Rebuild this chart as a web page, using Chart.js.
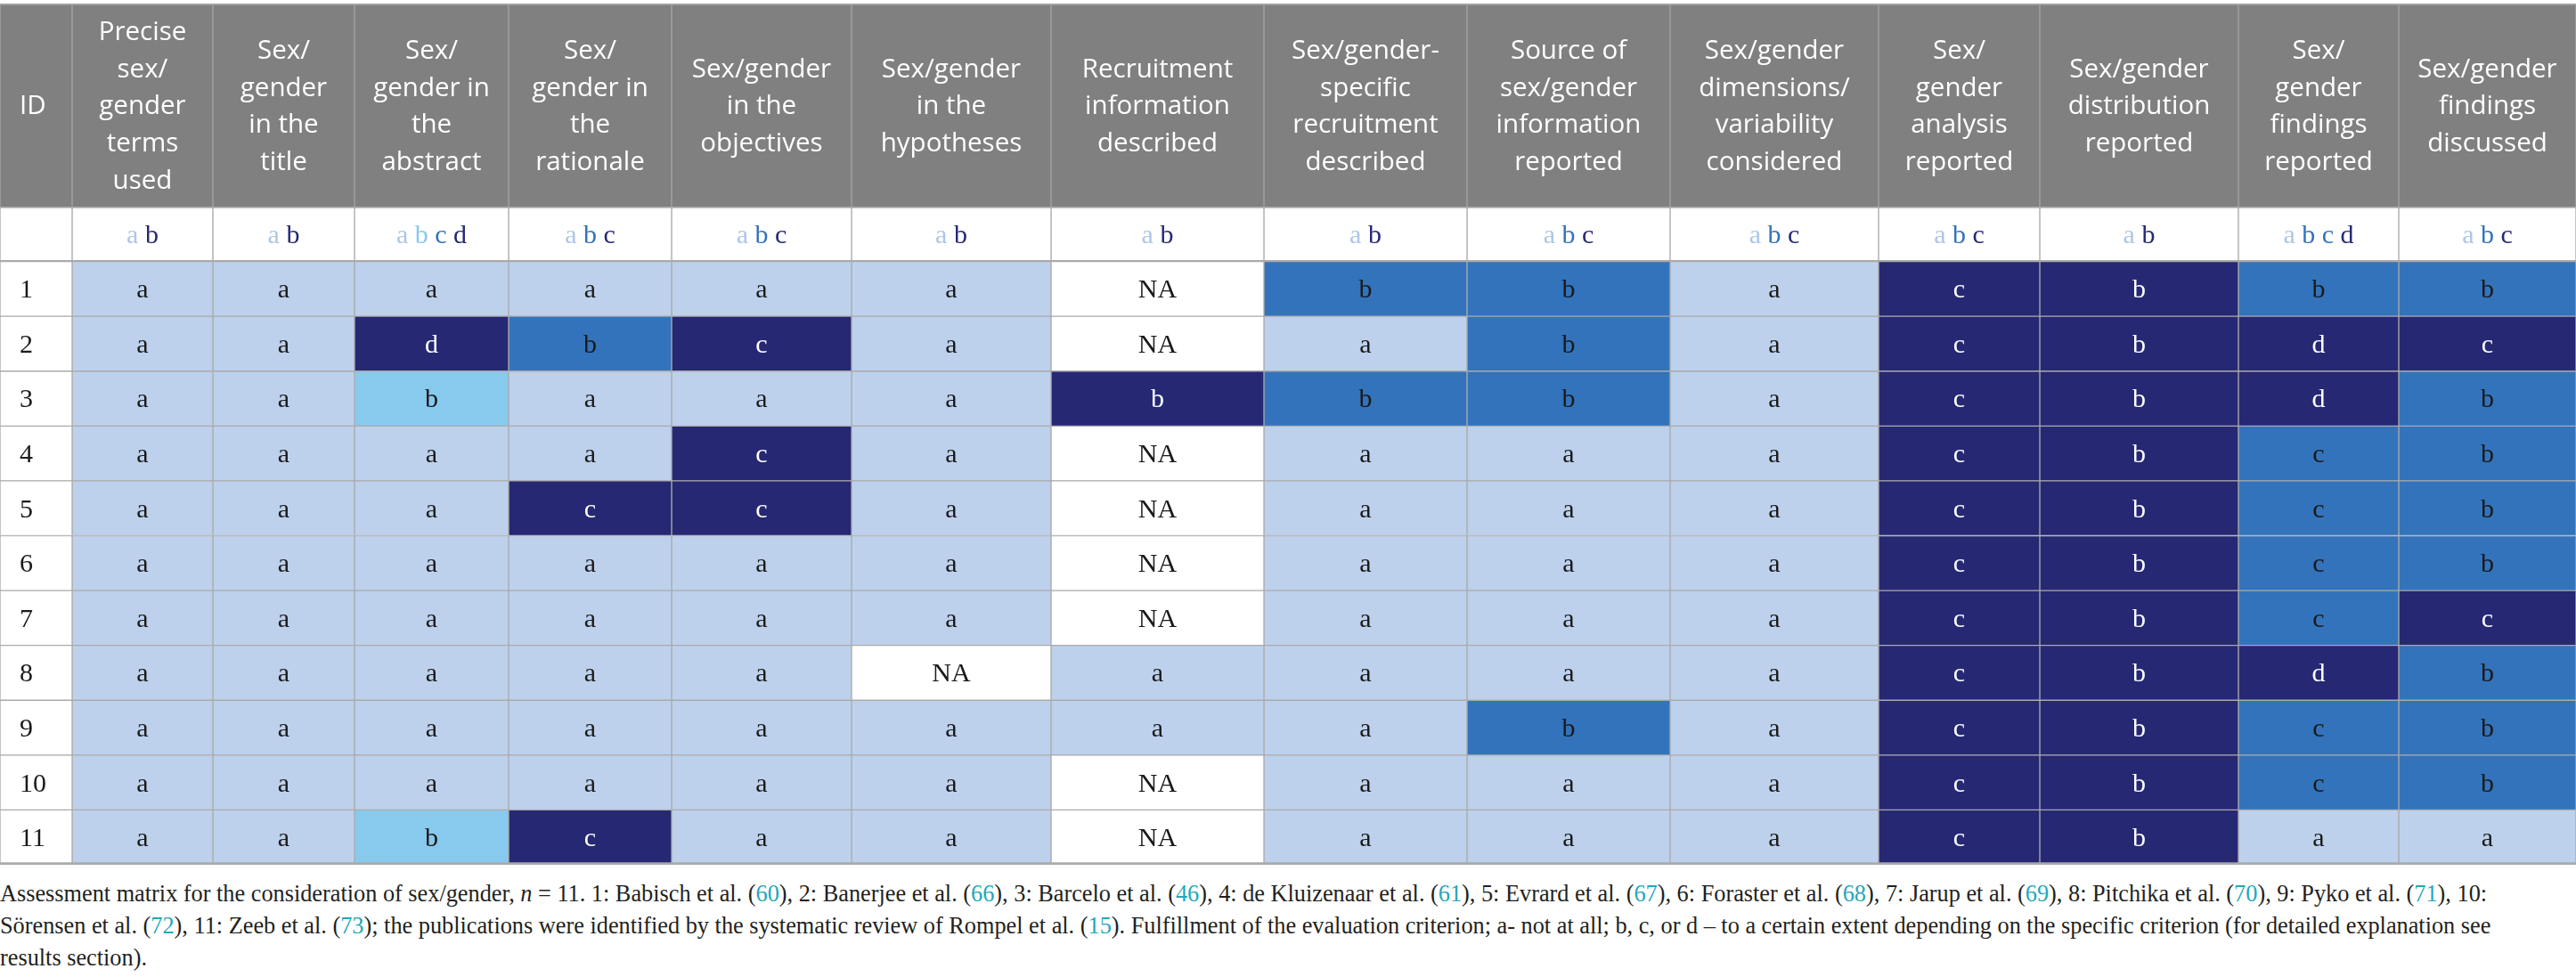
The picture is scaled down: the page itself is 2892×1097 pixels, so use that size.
<!DOCTYPE html>
<html lang="en">
<head>
    <title>Assessment matrix</title>
    <script src="https://cdn.jsdelivr.net/npm/chart.js"></script>
    <style>
        body { margin: 0; background: #fff; width: 2892px; height: 1097px; overflow: hidden; position: relative; }
        #head { position: absolute; left: 0; top: 4px; width: 2892px; height: 228px; }
        #body { position: absolute; left: 0; top: 232px; width: 2892px; height: 739px; }
        canvas { display: block; }
        #caption {
            position: absolute; left: 0; top: 985px;
            font-family: "Liberation Serif", serif; color: #231f20;
            font-size: 27px; line-height: 36px; white-space: nowrap;
            transform-origin: 0 0;
        }
        #caption .ref { color: #22a8ba; }
    </style>
</head>
<body>
    <div id="head"><canvas id="headChart"></canvas></div>
    <div id="body"><canvas id="bodyChart"></canvas></div>
    <div id="caption">
        <div class="line">Assessment matrix for the consideration of sex/gender, <i>n</i> = 11. 1: Babisch et al. (<span class="ref">60</span>), 2: Banerjee et al. (<span class="ref">66</span>), 3: Barcelo et al. (<span class="ref">46</span>), 4: de Kluizenaar et al. (<span class="ref">61</span>), 5: Evrard et al. (<span class="ref">67</span>), 6: Foraster et al. (<span class="ref">68</span>), 7: Jarup et al. (<span class="ref">69</span>), 8: Pitchika et al. (<span class="ref">70</span>), 9: Pyko et al. (<span class="ref">71</span>), 10:</div>
        <div class="line">Sörensen et al. (<span class="ref">72</span>), 11: Zeeb et al. (<span class="ref">73</span>); the publications were identified by the systematic review of Rompel et al. (<span class="ref">15</span>). Fulfillment of the evaluation criterion; a- not at all; b, c, or d – to a certain extent depending on the specific criterion (for detailed explanation see</div>
        <div class="line">results section).</div>
    </div>

    <script>
        // table content
        const idHeader = "ID";
        const criteria = [
            ["Precise", "sex/", "gender", "terms", "used"],
            ["Sex/", "gender", "in the", "title"],
            ["Sex/", "gender in", "the", "abstract"],
            ["Sex/", "gender in", "the", "rationale"],
            ["Sex/gender", "in the", "objectives"],
            ["Sex/gender", "in the", "hypotheses"],
            ["Recruitment", "information", "described"],
            ["Sex/gender-", "specific", "recruitment", "described"],
            ["Source of", "sex/gender", "information", "reported"],
            ["Sex/gender", "dimensions/", "variability", "considered"],
            ["Sex/", "gender", "analysis", "reported"],
            ["Sex/gender", "distribution", "reported"],
            ["Sex/", "gender", "findings", "reported"],
            ["Sex/gender", "findings", "discussed"]
        ];
        const levels = ["ab", "ab", "abcd", "abc", "abc", "ab", "ab", "ab", "abc", "abc", "abc", "ab", "abcd", "abc"];
        const ids = ["1", "2", "3", "4", "5", "6", "7", "8", "9", "10", "11"];
        const ratings = [
            ["a", "a", "a", "a", "a", "a", "NA", "b", "b", "a", "c", "b", "b", "b"],
            ["a", "a", "d", "b", "c", "a", "NA", "a", "b", "a", "c", "b", "d", "c"],
            ["a", "a", "b", "a", "a", "a", "b", "b", "b", "a", "c", "b", "d", "b"],
            ["a", "a", "a", "a", "c", "a", "NA", "a", "a", "a", "c", "b", "c", "b"],
            ["a", "a", "a", "c", "c", "a", "NA", "a", "a", "a", "c", "b", "c", "b"],
            ["a", "a", "a", "a", "a", "a", "NA", "a", "a", "a", "c", "b", "c", "b"],
            ["a", "a", "a", "a", "a", "a", "NA", "a", "a", "a", "c", "b", "c", "c"],
            ["a", "a", "a", "a", "a", "NA", "a", "a", "a", "a", "c", "b", "d", "b"],
            ["a", "a", "a", "a", "a", "a", "a", "a", "b", "a", "c", "b", "c", "b"],
            ["a", "a", "a", "a", "a", "a", "NA", "a", "a", "a", "c", "b", "c", "b"],
            ["a", "a", "b", "c", "a", "a", "NA", "a", "a", "a", "c", "b", "a", "a"]
        ];

        // layout: column edges in table pixels
        const colEdges = [0, 81, 239, 398, 571, 754, 956, 1180, 1419, 1647, 1875, 2109, 2290, 2513, 2693, 2892];

        // colours
        const LIGHT = "#bdd1ec", SKY = "#88c9ee", MID = "#3373bb", NAVY = "#262874";
        const cellColors = [
            [LIGHT, NAVY], [LIGHT, NAVY], [LIGHT, SKY, MID, NAVY], [LIGHT, MID, NAVY],
            [LIGHT, MID, NAVY], [LIGHT, NAVY], [LIGHT, NAVY], [LIGHT, MID],
            [LIGHT, MID, NAVY], [LIGHT, MID, NAVY], [LIGHT, MID, NAVY], [LIGHT, NAVY],
            [LIGHT, MID, MID, NAVY], [LIGHT, MID, NAVY]
        ];
        const keyColors = cellColors.map((c, i) => i === 7 ? [LIGHT, NAVY] : c);
        const KEY_A = "#adc6e8";

        function colorOf(col, v) {
            if (v === "NA") return "#ffffff";
            return cellColors[col]["abcd".indexOf(v)];
        }

        const headFont = '29.5px "Open Sans", sans-serif';
        const cellFont = '30px "Liberation Serif", serif';

        const headText = {
            id: "headText",
            afterDatasetsDraw(chart) {
                const ctx = chart.ctx;
                ctx.save();
                ctx.fillStyle = "#ffffff";
                ctx.font = headFont;
                ctx.textBaseline = "middle";
                chart.data.datasets.forEach((ds, i) => {
                    const bar = chart.getDatasetMeta(i).data[0];
                    const { x, y, base } = bar.getProps(["x", "y", "base"], true);
                    const lines = i === 0 ? [idHeader] : criteria[i - 1];
                    const lh = 41.7;
                    const y0 = y + 2 - (lines.length - 1) * lh / 2;
                    lines.forEach((t, k) => {
                        if (i === 0) {
                            ctx.textAlign = "left";
                            ctx.fillText(t, base + 22, y0 + k * lh);
                        } else {
                            ctx.textAlign = "center";
                            ctx.fillText(t, (x + base) / 2, y0 + k * lh);
                        }
                    });
                });
                ctx.restore();
            }
        };

        const bodyText = {
            id: "bodyText",
            afterDatasetsDraw(chart) {
                const ctx = chart.ctx;
                ctx.save();
                ctx.font = cellFont;
                ctx.textBaseline = "middle";
                chart.data.datasets.forEach((ds, i) => {
                    chart.getDatasetMeta(i).data.forEach((bar, j) => {
                        const { x, y, base } = bar.getProps(["x", "y", "base"], true);
                        const cx = (x + base) / 2, cy = y + 2;
                        if (i === 0) {
                            if (j === 0) return;
                            ctx.fillStyle = "#1a1a1a";
                            ctx.textAlign = "left";
                            ctx.fillText(ids[j - 1], base + 22, cy);
                            return;
                        }
                        const col = i - 1;
                        if (j === 0) {
                            const letters = levels[col].split("");
                            const str = letters.join(" ");
                            let px = cx - ctx.measureText(str).width / 2;
                            ctx.textAlign = "left";
                            letters.forEach((l, k) => {
                                ctx.fillStyle = k === 0 ? KEY_A : keyColors[col][k];
                                ctx.fillText(l, px, cy);
                                px += ctx.measureText(l + " ").width;
                            });
                            return;
                        }
                        const v = ratings[j - 1][col];
                        ctx.fillStyle = colorOf(col, v) === NAVY ? "#ffffff" : "#1a1a1a";
                        ctx.textAlign = "center";
                        ctx.fillText(v, cx, cy);
                    });
                });
                ctx.restore();
            }
        };

        const common = {
            indexAxis: "y",
            responsive: true,
            maintainAspectRatio: false,
            animation: false,
            layout: { padding: 0 },
            plugins: { legend: { display: false }, tooltip: { enabled: false } },
            scales: {
                x: { type: "linear", min: 0, max: 2892, display: false },
                y: { display: false }
            }
        };

        // header row
        new Chart(document.getElementById("headChart"), {
            type: "bar",
            data: {
                labels: ["header"],
                datasets: colEdges.slice(0, -1).map((e, i) => ({
                    data: [[e, colEdges[i + 1]]],
                    backgroundColor: "#7f807f",
                    borderColor: "#a4a4a4",
                    borderWidth: { left: 1, right: 1, top: 2, bottom: 0 },
                    borderSkipped: false,
                    grouped: false,
                    barPercentage: 1,
                    categoryPercentage: 1
                }))
            },
            options: common,
            plugins: [headText]
        });

        // key row + studies
        const rowLabels = ["key"].concat(ids);
        new Chart(document.getElementById("bodyChart"), {
            type: "bar",
            data: {
                labels: rowLabels,
                datasets: colEdges.slice(0, -1).map((e, i) => ({
                    data: rowLabels.map(() => [e, colEdges[i + 1]]),
                    backgroundColor: rowLabels.map((r, j) =>
                        (i === 0 || j === 0) ? "#ffffff" : colorOf(i - 1, ratings[j - 1][i - 1])),
                    borderColor: "#aaaaaa",
                    borderWidth: rowLabels.map((r, j) =>
                        j === 0 ? { left: 1, right: 1, top: 2, bottom: 2 } :
                        j === rowLabels.length - 1 ? { left: 1, right: 1, top: 1, bottom: 3 } : 1),
                    borderSkipped: false,
                    grouped: false,
                    barPercentage: 1,
                    categoryPercentage: 1
                }))
            },
            options: common,
            plugins: [bodyText]
        });

        // squeeze caption lines horizontally to the printed width
        const cap = document.getElementById("caption");
        const first = cap.querySelector(".line");
        first.style.display = "inline-block";
        const w = first.getBoundingClientRect().width;
        first.style.display = "block";
        cap.style.transform = "scaleX(" + (2792 / w).toFixed(4) + ")";
    </script>
</body>
</html>
